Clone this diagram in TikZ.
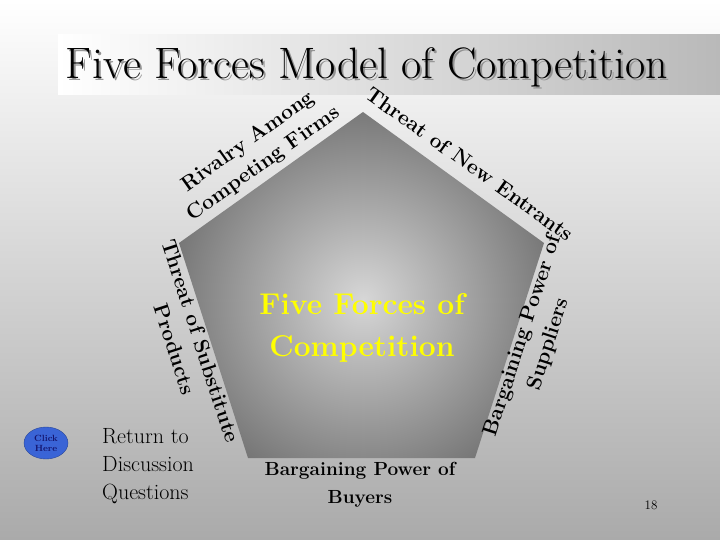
\documentclass[tikz,border=0pt]{standalone}
\usepackage{fontspec}
\usetikzlibrary{shapes.geometric}
\definecolor{bgbot}{RGB}{170,170,170}
\definecolor{bartop}{RGB}{185,185,185}
\definecolor{pentout}{RGB}{95,95,95}
\definecolor{pentin}{RGB}{215,215,215}
\definecolor{btnblue}{RGB}{58,100,214}
\definecolor{btntext}{RGB}{20,20,110}
\definecolor{titleyellow}{RGB}{255,255,0}
\tikzset{
  edgelbl/.style={font=\fontsize{21}{27}\selectfont\bfseries, align=center, inner sep=0pt},
  plain/.style={font=\fontsize{22}{28}\selectfont, align=left, inner sep=0pt, anchor=north west},
}
\begin{document}
\begin{tikzpicture}[x=1pt,y=-1pt]
\useasboundingbox (0,0) rectangle (720,540);
\shade[top color=white, bottom color=bgbot] (0,0) rectangle (720,540);
\shade[left color=white, right color=bartop] (58,35) rectangle (720,95);
\node[font=\fontsize{44}{44}\selectfont, text=gray!85] at (369,69) {Five Forces Model of Competition};
\node[font=\fontsize{44}{44}\selectfont] (title) at (367,67) {Five Forces Model of Competition};
% pentagon
\coordinate (pT) at (363,112);
\coordinate (pL) at (179,243);
\coordinate (pR) at (544,243);
\coordinate (pBL) at (248,458);
\coordinate (pBR) at (475,458);
\begin{scope}
\clip (pT) -- (pR) -- (pBR) -- (pBL) -- (pL) -- cycle;
\shade[inner color=pentin, outer color=pentout] (363,300) circle (240);
\end{scope}
\node[font=\fontsize{30}{42}\selectfont\bfseries, text=titleyellow, align=center] (center) at (362,328) {Five Forces of\\Competition};
% edge labels
\node[edgelbl, rotate=35.5] (rival) at (256,153) {Rivalry Among\\Competing Firms};
\node[edgelbl, rotate=-35.5] (newent) at (470,164) {Threat of New Entrants};
\node[edgelbl, rotate=72] (supp) at (536,340) {Bargaining Power of\\Suppliers};
\node[edgelbl, rotate=-72] (subst) at (188,345) {Threat of Substitute\\Products};
\node[font=\fontsize{19}{28}\selectfont\bfseries, align=center] (buyers) at (360,485) {Bargaining Power of\\Buyers};
% button
\node[ellipse, fill=btnblue, draw=btnblue!70!black, minimum width=44, minimum height=32, inner sep=0pt, font=\fontsize{9}{10}\selectfont\bfseries, text=btntext, align=center] (btn) at (46,443) {Click\\Here};
\node[plain] (ret) at (102,428) {Return to\\Discussion\\Questions};
\node[font=\fontsize{13}{13}\selectfont] (pg) at (651,505) {18};
\end{tikzpicture}
\end{document}
